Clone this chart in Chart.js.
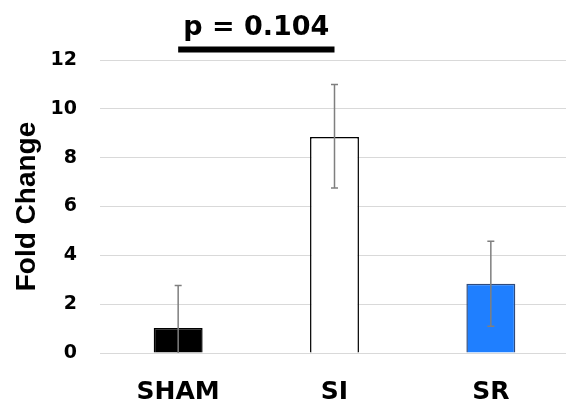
<!DOCTYPE html>
<html>
<head>
<meta charset="utf-8">
<script src="https://cdn.jsdelivr.net/npm/chart.js@4/dist/chart.umd.min.js"></script>
<style>
  html, body { margin: 0; padding: 0; background: #fff; overflow: hidden; }
  .wrap { width: 569px; height: 408px; }
</style>
</head>
<body>
<div class="wrap"><canvas id="chart"></canvas></div>
<script>
// values
const categories = ['SHAM', 'SI', 'SR'];
const means = [1.02, 8.85, 2.84];
const errHigh = [2.76, 11.0, 4.58];
const errLow = [-0.72, 6.76, 1.1];
const yTicks = [0, 2, 4, 6, 8, 10, 12];
const barColors = ['#000000', '#ffffff', '#1f7fff'];
const barBorders = ['#000000', '#000000', '#2f4b7c'];
const pLabel = 'p = 0.104';
const pPair = [0, 1];     // SHAM vs SI
const pLevel = 12.43;     // y value where the bracket line sits

const errorBars = {
  id: 'errorBars',
  afterDatasetsDraw(chart) {
    const ctx = chart.ctx;
    const x = chart.scales.x, y = chart.scales.y;
    const a = chart.chartArea;
    ctx.save();
    ctx.beginPath();
    ctx.rect(a.left, a.top - 20, a.right - a.left, a.bottom - a.top + 20);
    ctx.clip();
    ctx.strokeStyle = '#7f7f7f';
    ctx.lineWidth = 1.5;
    categories.forEach((c, i) => {
      const px = x.getPixelForValue(i);
      const top = y.getPixelForValue(errHigh[i]);
      const bot = y.getPixelForValue(errLow[i]);
      ctx.beginPath();
      ctx.moveTo(px, top); ctx.lineTo(px, bot);
      ctx.moveTo(px - 3.5, top); ctx.lineTo(px + 3.5, top);
      ctx.moveTo(px - 3.5, bot); ctx.lineTo(px + 3.5, bot);
      ctx.stroke();
    });
    ctx.restore();
  }
};

const pBracket = {
  id: 'pBracket',
  afterDraw(chart) {
    const ctx = chart.ctx;
    const x = chart.scales.x, y = chart.scales.y;
    const x1 = x.getPixelForValue(pPair[0]);
    const x2 = x.getPixelForValue(pPair[1]);
    const ly = y.getPixelForValue(pLevel);
    ctx.save();
    ctx.fillStyle = '#000';
    ctx.fillRect(x1, ly - 3, x2 - x1, 6);
    ctx.font = 'bold 27px "DejaVu Sans"';
    ctx.textAlign = 'center';
    ctx.textBaseline = 'alphabetic';
    ctx.fillText(pLabel, (x1 + x2) / 2, ly - 15);
    ctx.restore();
  }
};

new Chart(document.getElementById('chart'), {
  type: 'bar',
  data: {
    labels: categories,
    datasets: [{
      data: means,
      backgroundColor: barColors,
      borderColor: barBorders,
      borderWidth: 1.5,
      categoryPercentage: 1,
      barPercentage: 0.313
    }]
  },
  options: {
    responsive: true,
    maintainAspectRatio: false,
    animation: false,
    layout: { padding: { top: 60, bottom: 0, left: 0, right: 0 } },
    plugins: { legend: { display: false }, tooltip: { enabled: false } },
    scales: {
      x: {
        afterFit(scale) { scale.height = 55; },
        grid: { display: false, drawTicks: false },
        border: { display: false },
        ticks: {
          color: '#000',
          padding: 24,
          font: { family: 'DejaVu Sans', size: 25, weight: 'bold' }
        }
      },
      y: {
        min: 0,
        max: 12,
        afterBuildTicks(scale) {
          scale.ticks = yTicks.map(v => ({ value: v }));
        },
        afterFit(scale) { scale.width = 100; },
        grid: { color: '#d9d9d9', lineWidth: 1, drawTicks: false },
        border: { display: false },
        ticks: {
          color: '#000',
          padding: 23,
          font: { family: 'DejaVu Sans', size: 19, weight: 'bold' }
        },
        title: {
          display: true,
          text: 'Fold Change',
          color: '#000',
          padding: { top: 10, bottom: 0 },
          font: { family: 'Liberation Sans', size: 28, weight: 'bold' }
        }
      }
    }
  },
  plugins: [errorBars, pBracket]
});
</script>
</body>
</html>
